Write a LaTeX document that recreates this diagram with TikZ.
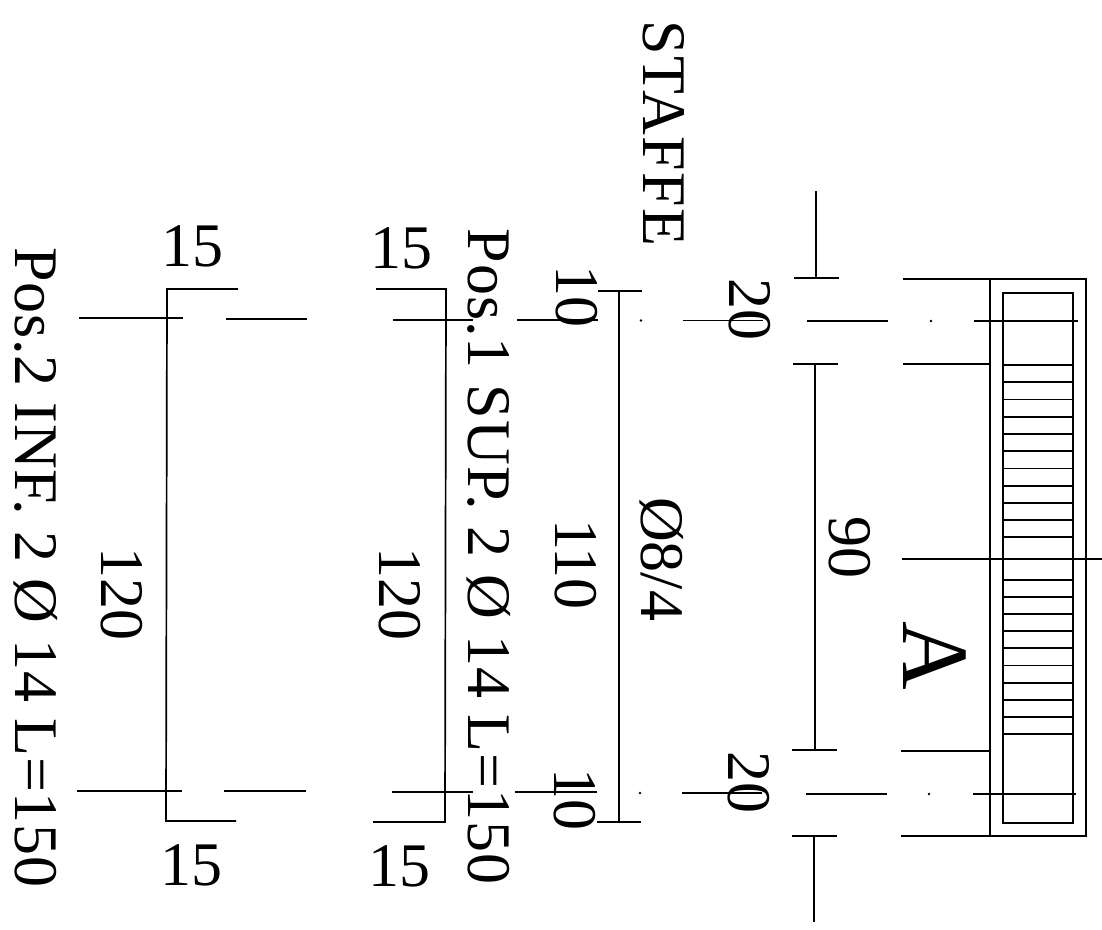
\documentclass[tikz,border=0pt]{standalone}
\usepackage{fontspec}
\setmainfont{Liberation Serif}
\tikzset{
  ln/.style={line width=1.7pt,black,line join=miter},
  txt/.style={inner sep=0pt,outer sep=0pt,font=\fontsize{62}{62}\selectfont,anchor=center},
  rtxt/.style={txt,rotate=-90}
}
\begin{document}
\begin{tikzpicture}[x=1pt,y=-1pt]
\useasboundingbox (0,0) rectangle (1102,929);
% beam
\draw[ln] (990,279) rectangle (1086,836);
\draw[ln] (1003,293) rectangle (1073,823);
\foreach \y in {365,382.3,399.5,416.8,434,451.3,468.5,485.8,503,520,537,580,597,614,631,648,665.5,683,700,717,734}
  \draw[ln] (1003,\y) -- (1073,\y);
% extension lines
\draw[ln] (903,279) -- (990,279);
\draw[ln] (903,364) -- (990,364);
\draw[ln] (902,559) -- (1102,559);
\draw[ln] (901,751) -- (990,751);
\draw[ln] (901,836) -- (990,836);
\draw[ln] (974,321) -- (1078,321);
\draw[ln] (973,794) -- (1076,794);
% dim chain
\draw[ln] (816,191) -- (816,278);
\draw[ln] (794,278) -- (839,278);
\draw[ln] (793,364) -- (838,364);
\draw[ln] (815,364) -- (815,750);
\draw[ln] (792,750) -- (837,750);
\draw[ln] (792,836) -- (837,836);
\draw[ln] (814,836) -- (814,922);
\draw[ln] (807,321) -- (888,321);
\draw[ln] (806,794) -- (887,794);
\fill (931,321) circle (1.3);
\fill (929,794) circle (1.3);
% stirrup
\draw[ln] (619,291) -- (619,822);
\draw[ln] (598,291) -- (642,291);
\draw[ln] (597,822) -- (641,822);
\draw[ln] (683,320.5) -- (763,320.5);
\draw[ln] (682,793) -- (762,793);
\fill (641,320.5) circle (1.3);
\fill (640,793) circle (1.3);
\draw[ln] (517,320) -- (598,320);
\draw[ln] (515,792) -- (597,792);
% bar 1
\draw[ln] (376,289) -- (446,289) -- (445,822) -- (373,822);
\draw[ln] (393,320) -- (473,320);
\draw[ln] (392,792) -- (473,792);
% bar 2
\draw[ln] (238,289) -- (167,289) -- (166,821) -- (236,821);
\draw[ln] (79,318) -- (183,318);
\draw[ln] (226,319) -- (307,319);
\draw[ln] (77,791) -- (182,791);
\draw[ln] (224,791) -- (306,791);
% texts
\node[rtxt] (staffe) at (664,133.5) {\addfontfeature{LetterSpace=2}STAFFE};
\node[rtxt] (pos1) at (489,556.5) {\addfontfeature{LetterSpace=1.5}Pos.1 SUP. 2 Ø 14 L=150};
\node[rtxt] (pos2) at (36,567.5) {\addfontfeature{LetterSpace=1.1}Pos.2 INF. 2 Ø 14 L=150};
\node[rtxt] (d90) at (850,547.5) {90};
\node[rtxt] (d20a) at (750,309.5) {20};
\node[rtxt] (d20b) at (749,782) {20};
\node[rtxt] (d10a) at (577,296.5) {10};
\node[rtxt] (d10b) at (575,799) {10};
\node[rtxt] (d110) at (575.5,564.5) {110};
\node[rtxt] (phi) at (662,559) {Ø8/4};
\node[rtxt] (d120a) at (400,594) {120};
\node[rtxt] (d120b) at (122,594) {120};
\node[rtxt,font=\fontsize{95}{95}\selectfont] (a) at (935,656) {A};
\node[txt] (n1) at (192.5,246.5) {15};
\node[txt] (n2) at (401,248) {15};
\node[txt] (n3) at (191,865) {15};
\node[txt] (n4) at (399,866) {15};
\end{tikzpicture}
\end{document}
